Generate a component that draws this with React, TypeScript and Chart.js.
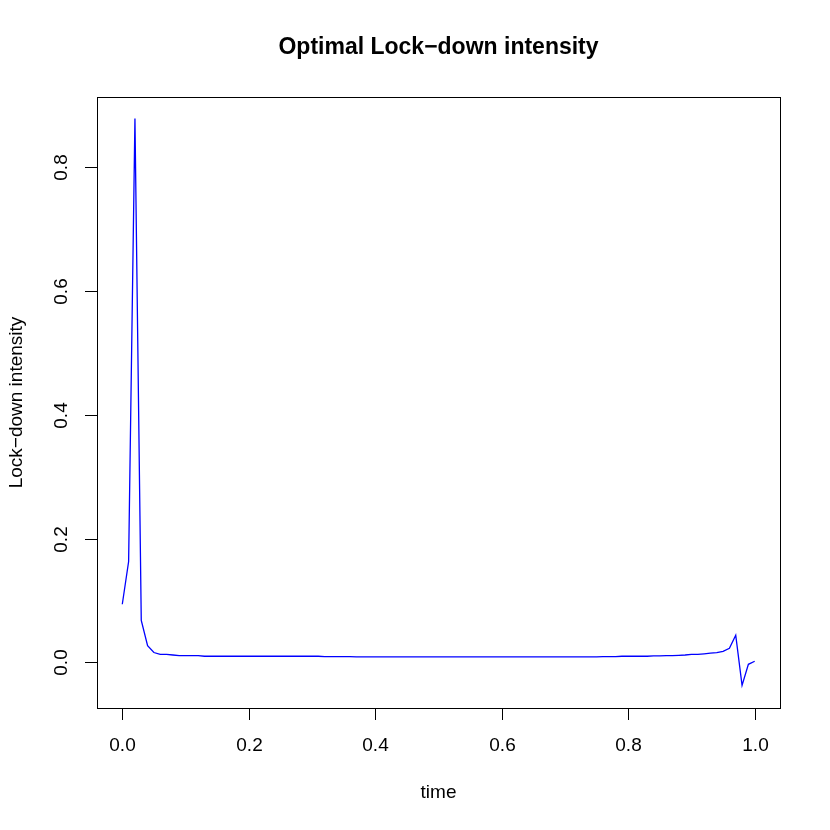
import React, { useEffect, useRef } from "react";
import { Chart, registerables } from "chart.js";

Chart.register(...registerables);

const titleText = "Optimal Lock\u2212down intensity";
const xLabel = "time";
const yLabel = "Lock\u2212down intensity";
const xTicks = [0, 0.2, 0.4, 0.6, 0.8, 1.0];
const yTicks = [0, 0.2, 0.4, 0.6, 0.8];

const timeValues: number[] = Array.from({ length: 101 }, (_, i) => i / 100);
const intensity: number[] = [
  0.094, 0.163, 0.879, 0.068, 0.027, 0.016, 0.013, 0.013, 0.012, 0.011,
  0.011, 0.011, 0.011, 0.010, 0.010, 0.010, 0.010, 0.010, 0.010, 0.010,
  0.010, 0.010, 0.010, 0.010, 0.010, 0.010, 0.010, 0.010, 0.010, 0.010,
  0.010, 0.010, 0.0095, 0.0095, 0.0095, 0.0095, 0.0095, 0.009, 0.009, 0.009,
  0.009, 0.009, 0.009, 0.009, 0.009, 0.009, 0.009, 0.009, 0.009, 0.009,
  0.009, 0.009, 0.009, 0.009, 0.009, 0.009, 0.009, 0.009, 0.009, 0.009,
  0.009, 0.009, 0.009, 0.009, 0.009, 0.009, 0.009, 0.009, 0.009, 0.009,
  0.009, 0.009, 0.009, 0.009, 0.009, 0.009, 0.0095, 0.0095, 0.0095, 0.010,
  0.010, 0.010, 0.010, 0.010, 0.0105, 0.0105, 0.011, 0.011, 0.0115, 0.012,
  0.013, 0.013, 0.014, 0.015, 0.016, 0.018, 0.023, 0.044, -0.037, -0.003,
  0.002,
];

const FONT = "'Liberation Sans', Arial, Helvetica, sans-serif";

const rAxes = {
  id: "rAxes",
  afterDraw(chart: any) {
    const ctx = chart.ctx;
    const { left, right, top, bottom } = chart.chartArea;
    const xs = chart.scales.x;
    const ys = chart.scales.y;
    ctx.save();
    ctx.strokeStyle = "#000";
    ctx.lineWidth = 1;
    ctx.strokeRect(Math.round(left) + 0.5, Math.round(top) + 0.5, Math.round(right - left), Math.round(bottom - top));
    ctx.fillStyle = "#000";
    ctx.font = `19px ${FONT}`;
    ctx.textAlign = "center";
    ctx.textBaseline = "middle";
    xTicks.forEach((v) => {
      const px = Math.round(xs.getPixelForValue(v)) + 0.5;
      ctx.beginPath();
      ctx.moveTo(px, bottom);
      ctx.lineTo(px, bottom + 12);
      ctx.stroke();
      ctx.fillText(v.toFixed(1), px, bottom + 38);
    });
    yTicks.forEach((v) => {
      const py = Math.round(ys.getPixelForValue(v)) + 0.5;
      ctx.beginPath();
      ctx.moveTo(left, py);
      ctx.lineTo(left - 12, py);
      ctx.stroke();
      ctx.save();
      ctx.translate(left - 35, py);
      ctx.rotate(-Math.PI / 2);
      ctx.fillText(v.toFixed(1), 0, 0);
      ctx.restore();
    });
    ctx.fillText(xLabel, (left + right) / 2, 793);
    ctx.save();
    ctx.translate(17, (top + bottom) / 2);
    ctx.rotate(-Math.PI / 2);
    ctx.fillText(yLabel, 0, 0);
    ctx.restore();
    ctx.font = `bold 23px ${FONT}`;
    ctx.fillText(titleText, (left + right) / 2, 48);
    ctx.restore();
  },
};

export default function App() {
  const ref = useRef<HTMLCanvasElement | null>(null);
  useEffect(() => {
    if (!ref.current) return;
    const chart = new Chart(ref.current, {
      type: "line",
      data: {
        datasets: [
          {
            data: timeValues.map((t, i) => ({ x: t, y: intensity[i] })),
            borderColor: "#0000ff",
            borderWidth: 1.3,
            pointRadius: 0,
            tension: 0,
            fill: false,
          },
        ],
      },
      options: {
        animation: false,
        responsive: false,
        devicePixelRatio: 1,
        layout: { padding: { left: 97, right: 50, top: 97, bottom: 122 } },
        plugins: { legend: { display: false }, tooltip: { enabled: false }, title: { display: false } },
        scales: {
          x: { type: "linear", min: -0.04, max: 1.04, display: false },
          y: { type: "linear", min: -0.0736, max: 0.9136, display: false },
        },
      },
      plugins: [rAxes],
    });
    return () => chart.destroy();
  }, []);
  return (
    <div style={{ position: "fixed", left: 0, top: 0, width: 830, height: 830, background: "#fff" }}>
      <canvas ref={ref} width={830} height={830} style={{ width: 830, height: 830 }} />
    </div>
  );
}
